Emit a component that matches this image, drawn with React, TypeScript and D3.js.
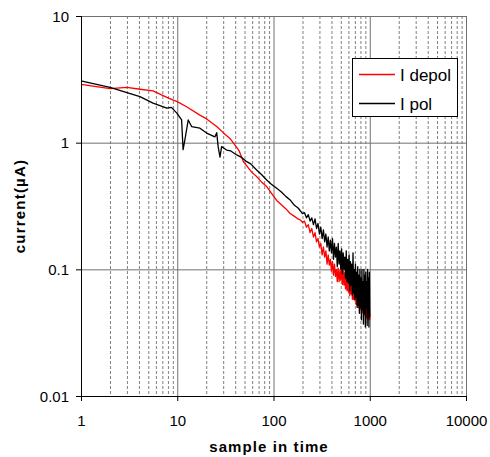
import React from "react";
import * as d3 from "d3";

const W = 490;
const H = 457;

// X axis decades and Y axis decades
const xTicks = [1, 10, 100, 1000, 10000];
const xTickLabels = ["1", "10", "100", "1000", "10000"];
const yTicks = [0.01, 0.1, 1, 10];
const yTickLabels = ["0.01", "0.1", "1", "10"];

// I depol (red) — smooth head
const redHeadX = [1, 2, 3, 4.1, 5.6, 7.8, 9.1, 10, 12.5, 17.2, 20.2, 25.7, 30, 35.3, 40, 44, 48.6, 55, 60, 66.8, 75, 85, 95, 108, 120, 135, 148, 165, 180];
const redHeadY = [2.89, 2.67, 2.73, 2.64, 2.56, 2.28, 2.17, 2.11, 1.92, 1.65, 1.54, 1.34, 1.2, 1.08, 0.95, 0.86, 0.71, 0.63, 0.58, 0.54, 0.49, 0.45, 0.4, 0.35, 0.325, 0.3, 0.277, 0.262, 0.25];

// I pol (black) — head with dips
const blackHeadX = [1, 2, 3, 4.1, 5.6, 7.8, 8.7, 9.9, 11.1, 11.5, 12, 13, 14.1, 17.2, 20.2, 24.6, 25.7, 26.6, 27.8, 28.9, 32.6, 36, 41.5, 46, 52.7, 58, 66.8, 75, 85, 95, 108, 120, 135, 148, 165, 180];
const blackHeadY = [3.08, 2.73, 2.48, 2.31, 2.05, 1.87, 1.9, 1.71, 1.51, 0.88, 1.05, 1.51, 1.34, 1.3, 1.19, 1.11, 1.2, 0.93, 0.77, 0.93, 0.875, 0.86, 0.8, 0.77, 0.708, 0.68, 0.608, 0.56, 0.507, 0.47, 0.436, 0.41, 0.375, 0.355, 0.32, 0.305];

// Noisy tail samples
const tailX = [190, 200, 210, 220, 230, 240, 250, 260, 270, 280, 290, 300, 310, 320, 330, 340, 350, 360, 370, 380, 390, 400, 410, 420, 430, 440, 450, 460, 470, 480, 490, 500, 510, 520, 530, 540, 550, 560, 570, 580, 590, 600, 610, 620, 630, 640, 650, 660, 670, 680, 690, 700, 710, 720, 730, 740, 750, 760, 770, 780, 790, 800, 810, 820, 830, 840, 850, 860, 870, 880, 890, 900, 910, 920, 930, 940, 950, 960, 970, 980, 990, 1000];
const blackTailY = [0.29, 0.275, 0.28, 0.255, 0.27, 0.24, 0.255, 0.225, 0.25, 0.21, 0.23, 0.19, 0.215, 0.175, 0.205, 0.165, 0.19, 0.15, 0.18, 0.14, 0.17, 0.135, 0.175, 0.12, 0.16, 0.125, 0.15, 0.105, 0.16, 0.11, 0.14, 0.1, 0.145, 0.092, 0.135, 0.1, 0.125, 0.085, 0.14, 0.08, 0.12, 0.078, 0.13, 0.068, 0.115, 0.075, 0.11, 0.062, 0.135, 0.065, 0.1, 0.058, 0.11, 0.06, 0.095, 0.05, 0.105, 0.052, 0.09, 0.045, 0.1, 0.05, 0.085, 0.04, 0.1, 0.048, 0.08, 0.037, 0.1, 0.045, 0.09, 0.035, 0.095, 0.05, 0.08, 0.036, 0.1, 0.045, 0.085, 0.035, 0.095, 0.042];
const redTailY = [0.245, 0.235, 0.24, 0.215, 0.225, 0.195, 0.21, 0.18, 0.195, 0.165, 0.175, 0.15, 0.16, 0.13, 0.15, 0.125, 0.14, 0.11, 0.13, 0.108, 0.12, 0.097, 0.115, 0.09, 0.11, 0.088, 0.1, 0.08, 0.102, 0.08, 0.098, 0.082, 0.104, 0.076, 0.098, 0.075, 0.094, 0.07, 0.095, 0.068, 0.088, 0.066, 0.09, 0.062, 0.086, 0.064, 0.084, 0.058, 0.086, 0.058, 0.078, 0.057, 0.078, 0.053, 0.074, 0.052, 0.072, 0.05, 0.07, 0.049, 0.068, 0.048, 0.066, 0.046, 0.064, 0.046, 0.062, 0.045, 0.06, 0.044, 0.058, 0.043, 0.057, 0.042, 0.056, 0.041, 0.055, 0.04, 0.054, 0.041, 0.053, 0.04];

const seriesNames = ["I depol", "I pol"];
const seriesColors = ["#ff0000", "#000000"];

export default function App() {
  const x = d3.scaleLog().domain([1, 10000]).range([81, 466]);
  const y = d3.scaleLog().domain([0.01, 10]).range([396, 16]);

  const redPts: [number, number][] = [
    ...redHeadX.map((v, i) => [v, redHeadY[i]] as [number, number]),
    ...tailX.map((v, i) => [v, redTailY[i]] as [number, number]),
  ];
  const blackPts: [number, number][] = [
    ...blackHeadX.map((v, i) => [v, blackHeadY[i]] as [number, number]),
    ...tailX.map((v, i) => [v, blackTailY[i]] as [number, number]),
  ];

  const line = d3
    .line<[number, number]>()
    .x((d) => x(d[0]))
    .y((d) => y(d[1]));

  const minorX: number[] = [];
  [1, 10, 100, 1000].forEach((dec) => {
    for (let k = 2; k <= 9; k++) minorX.push(dec * k);
  });

  const [x0, x1] = x.range();
  const [yb, yt] = y.range();
  const font = "Arial, 'Liberation Sans', sans-serif";

  return (
    <svg width={W} height={H} style={{ position: "absolute", left: 0, top: 0 }}>
      <rect x={0} y={0} width={W} height={H} fill="#fff" />
      {/* minor vertical grid */}
      {minorX.map((v) => (
        <line key={"mx" + v} x1={x(v) + 0.5} x2={x(v) + 0.5} y1={yt} y2={yb} stroke="#808080" strokeWidth={1} strokeDasharray="3,2" />
      ))}
      {/* major vertical grid */}
      {xTicks.slice(1).map((v) => (
        <line key={"Mx" + v} x1={x(v) + 0.5} x2={x(v) + 0.5} y1={yt} y2={yb} stroke="#707070" strokeWidth={1} />
      ))}
      {/* major horizontal grid */}
      {yTicks.slice(1).map((v) => (
        <line key={"My" + v} x1={x0} x2={x1} y1={y(v) + 0.5} y2={y(v) + 0.5} stroke="#707070" strokeWidth={1} />
      ))}
      {/* series */}
      <path d={line(redPts) || ""} fill="none" stroke={seriesColors[0]} strokeWidth={1.3} strokeLinejoin="round" />
      <path d={line(blackPts) || ""} fill="none" stroke={seriesColors[1]} strokeWidth={1.3} strokeLinejoin="round" />
      {/* axes */}
      <line x1={x0 + 0.5} x2={x0 + 0.5} y1={yt} y2={yb + 0.5} stroke="#000" strokeWidth={1} />
      <line x1={x0} x2={x1 + 0.5} y1={yb + 0.5} y2={yb + 0.5} stroke="#000" strokeWidth={1} />
      {yTicks.map((v, i) => (
        <g key={"yt" + v}>
          <line x1={x0 - 5} x2={x0} y1={y(v) + 0.5} y2={y(v) + 0.5} stroke="#000" />
          <text x={69} y={y(v) + 5.5} textAnchor="end" fontFamily={font} fontSize={15} fill="#000">
            {yTickLabels[i]}
          </text>
        </g>
      ))}
      {xTicks.map((v, i) => (
        <g key={"xt" + v}>
          <line x1={x(v) + 0.5} x2={x(v) + 0.5} y1={yb} y2={yb + 5} stroke="#000" />
          <text x={x(v) + 0.5} y={426} textAnchor="middle" fontFamily={font} fontSize={15} fill="#000">
            {xTickLabels[i]}
          </text>
        </g>
      ))}
      {/* axis titles */}
      <text x={269} y={452} textAnchor="middle" fontFamily={font} fontSize={15} fontWeight="bold" letterSpacing={1.1} fill="#000">
        sample in time
      </text>
      <text transform="translate(25,206) rotate(-90)" textAnchor="middle" fontFamily={font} fontSize={15} fontWeight="bold" letterSpacing={1.2} fill="#000">
        current(µA)
      </text>
      {/* legend */}
      <rect x={352.5} y={58.5} width={105} height={58} fill="#fff" stroke="#000" strokeWidth={1} />
      {seriesNames.map((n, i) => (
        <g key={n}>
          <line x1={359} x2={395} y1={74.5 + i * 29} y2={74.5 + i * 29} stroke={seriesColors[i]} strokeWidth={1.3} />
          <text x={400} y={80.5 + i * 29} fontFamily={font} fontSize={17} fill="#000">
            {n}
          </text>
        </g>
      ))}
    </svg>
  );
}
